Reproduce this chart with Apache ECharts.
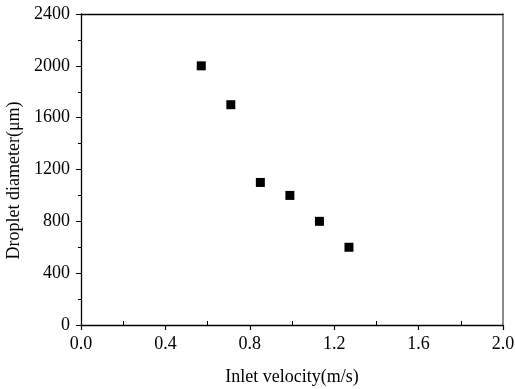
<!DOCTYPE html>
<html>
<head>
<meta charset="utf-8">
<script src="https://cdn.jsdelivr.net/npm/echarts@6/dist/echarts.min.js"></script>
<style>
	html, body { margin: 0; padding: 0; background: #fff; }
	#chart { width: 515px; height: 389px; }
</style>
</head>
<body>
<div id="chart"></div>
<script>
// data
var velocity = [0.57, 0.71, 0.85, 0.99, 1.13, 1.27]; // m/s
var diameter = [2000, 1700, 1100, 1000, 800, 600]; // μm
var xTicks = [0, 0.4, 0.8, 1.2, 1.6, 2.0];
var yTicks = [0, 400, 800, 1200, 1600, 2000, 2400];

(function() {
	var points = [];
	for (var i = 0; i < velocity.length; i++) {
		points.push([velocity[i], diameter[i]]);
	}
	var font = 'Liberation Serif';
	var chart = echarts.init(document.getElementById('chart'));
	chart.setOption({
		backgroundColor: '#fff',
		animation: false,
		grid: { left: 81, right: 12, top: 14, bottom: 64, containLabel: false, outerBoundsMode: 'none' },
		xAxis: [{
			//主轴：标签 + 内侧小刻度
			type: 'value',
			min: xTicks[0],
			max: xTicks[xTicks.length - 1],
			interval: 0.4,
			name: 'Inlet velocity(m/s)',
			nameLocation: 'middle',
			nameGap: 43,
			nameTextStyle: { fontFamily: font, fontSize: 18, color: '#000' },
			axisLine: { show: true, onZero: false, lineStyle: { color: '#000', width: 1.3 } },
			axisTick: { show: false, inside: true },
			minorTick: { show: true, splitNumber: 2, length: 4, lineStyle: { color: '#000' } },
			axisLabel: {
				fontFamily: font, fontSize: 18, color: '#000', margin: 10,
				formatter: function(v) { return v.toFixed(1); }
			},
			splitLine: { show: false }
		}, {
			//外侧主刻度（下移后向上画）
			type: 'value',
			position: 'bottom',
			offset: 5,
			min: 0, max: 2, interval: 0.4,
			axisLine: { show: false, onZero: false },
			axisLabel: { show: false },
			axisTick: { show: true, inside: true, length: 5, lineStyle: { color: '#000', width: 1.2 } },
			splitLine: { show: false }
		}, {
			//顶部边框
			type: 'value',
			position: 'top',
			min: 0, max: 2,
			axisLine: { show: true, onZero: false, lineStyle: { color: '#000', width: 1.3 } },
			axisLabel: { show: false },
			axisTick: { show: false },
			splitLine: { show: false }
		}],
		yAxis: [{
			type: 'value',
			min: yTicks[0],
			max: yTicks[yTicks.length - 1],
			interval: 400,
			name: 'Droplet diameter(μm)',
			nameLocation: 'middle',
			nameGap: 51,
			nameTextStyle: { fontFamily: font, fontSize: 18, color: '#000', padding: [0, 22, 0, 0] },
			axisLine: { show: true, onZero: false, lineStyle: { color: '#000', width: 1.3 } },
			axisTick: { show: true, length: 5, lineStyle: { color: '#000' } },
			minorTick: { show: true, splitNumber: 2, length: 3, lineStyle: { color: '#000' } },
			axisLabel: {
				fontFamily: font, fontSize: 18, color: '#000', margin: 11,
				formatter: function(v) { return String(v); }
			},
			splitLine: { show: false }
		}, {
			//右侧边框
			type: 'value',
			position: 'right',
			min: 0, max: 2400,
			axisLine: { show: true, onZero: false, lineStyle: { color: '#666', width: 1.5 } },
			axisLabel: { show: false },
			axisTick: { show: false },
			splitLine: { show: false }
		}],
		series: [{
			type: 'scatter',
			data: points,
			symbol: 'rect',
			symbolSize: 9,
			itemStyle: { color: '#000', opacity: 1 }
		}]
	});
})();
</script>
</body>
</html>
